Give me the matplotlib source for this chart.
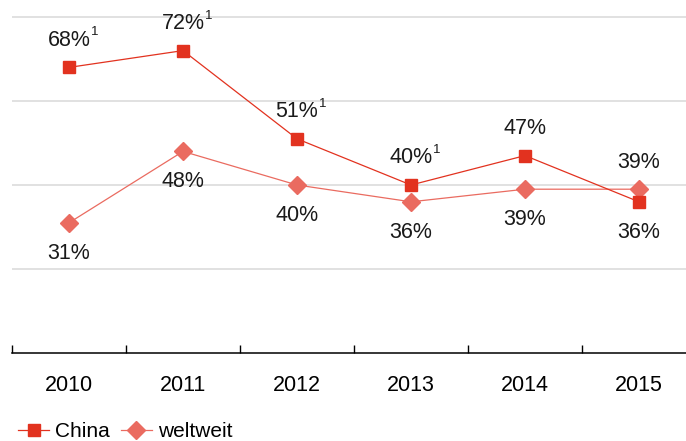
import numpy as np
import matplotlib.pyplot as plt

years = ['2010', '2011', '2012', '2013', '2014', '2015']
china = [68, 72, 51, 40, 47, 36]
weltweit = [31, 48, 40, 36, 39, 39]
china_sup = [True, True, True, True, False, False]
china_pos = ['above', 'above', 'above', 'above', 'above', 'below']
welt_pos = ['below', 'below', 'below', 'below', 'below', 'above']

plt.rcParams['font.family'] = ['Liberation Sans', 'DejaVu Sans']

c_china = '#E2321F'
c_welt = '#EA6B60'

fig = plt.figure(figsize=(6.86, 4.41), dpi=100)
ax = fig.add_axes([12 / 686, 88 / 441, 684 / 686, 352.8 / 441])

x = np.arange(len(years))
ax.plot(x, weltweit, color=c_welt, lw=0.9, marker='D', ms=9.5, label='weltweit', zorder=3)
ax.plot(x, china, color=c_china, lw=0.9, marker='s', ms=8.5, label='China', zorder=4)

for g in [20, 40, 60, 80]:
    ax.axhline(g, color='#D9D9D9', lw=1.1, zorder=1)

def label(xi, v, pos, sup=False):
    off = 19.5 if pos == 'above' else -22
    t = ax.annotate(f'{v}%', (xi, v), xytext=(0, off), textcoords='offset points',
                    ha='center', va='center', fontsize=15.5, color='#1a1a1a')
    if sup:
        ax.annotate('1', xy=(1, 1), xycoords=t, xytext=(0.2, 2.5), textcoords='offset points',
                    ha='left', va='top', fontsize=9.5, color='#1a1a1a')

for i in range(len(years)):
    label(i, china[i], china_pos[i], china_sup[i])
    label(i, weltweit[i], welt_pos[i])

ax.set_xlim(-0.5, 5.5)
ax.set_ylim(0, 84)
for s in ['top', 'right', 'left']:
    ax.spines[s].set_visible(False)
ax.spines['bottom'].set_linewidth(1.1)
ax.set_yticks([])
ax.set_xticks(np.arange(-0.5, 6, 1))
ax.set_xticklabels([])
ax.set_xticks(x, minor=True)
ax.set_xticklabels(years, minor=True, fontsize=15.5)
ax.tick_params(axis='x', which='major', direction='in', length=6, width=1)
ax.tick_params(axis='x', which='minor', length=0, pad=16)

handles, labels = ax.get_legend_handles_labels()
fig.legend(handles[::-1], labels[::-1], loc='lower left', bbox_to_anchor=(0.008, -0.028),
           ncol=2, frameon=False, fontsize=15, handlelength=1.5, handletextpad=0.3,
           columnspacing=0.5, borderaxespad=0.2)

fig.savefig('out.png', dpi=100)
